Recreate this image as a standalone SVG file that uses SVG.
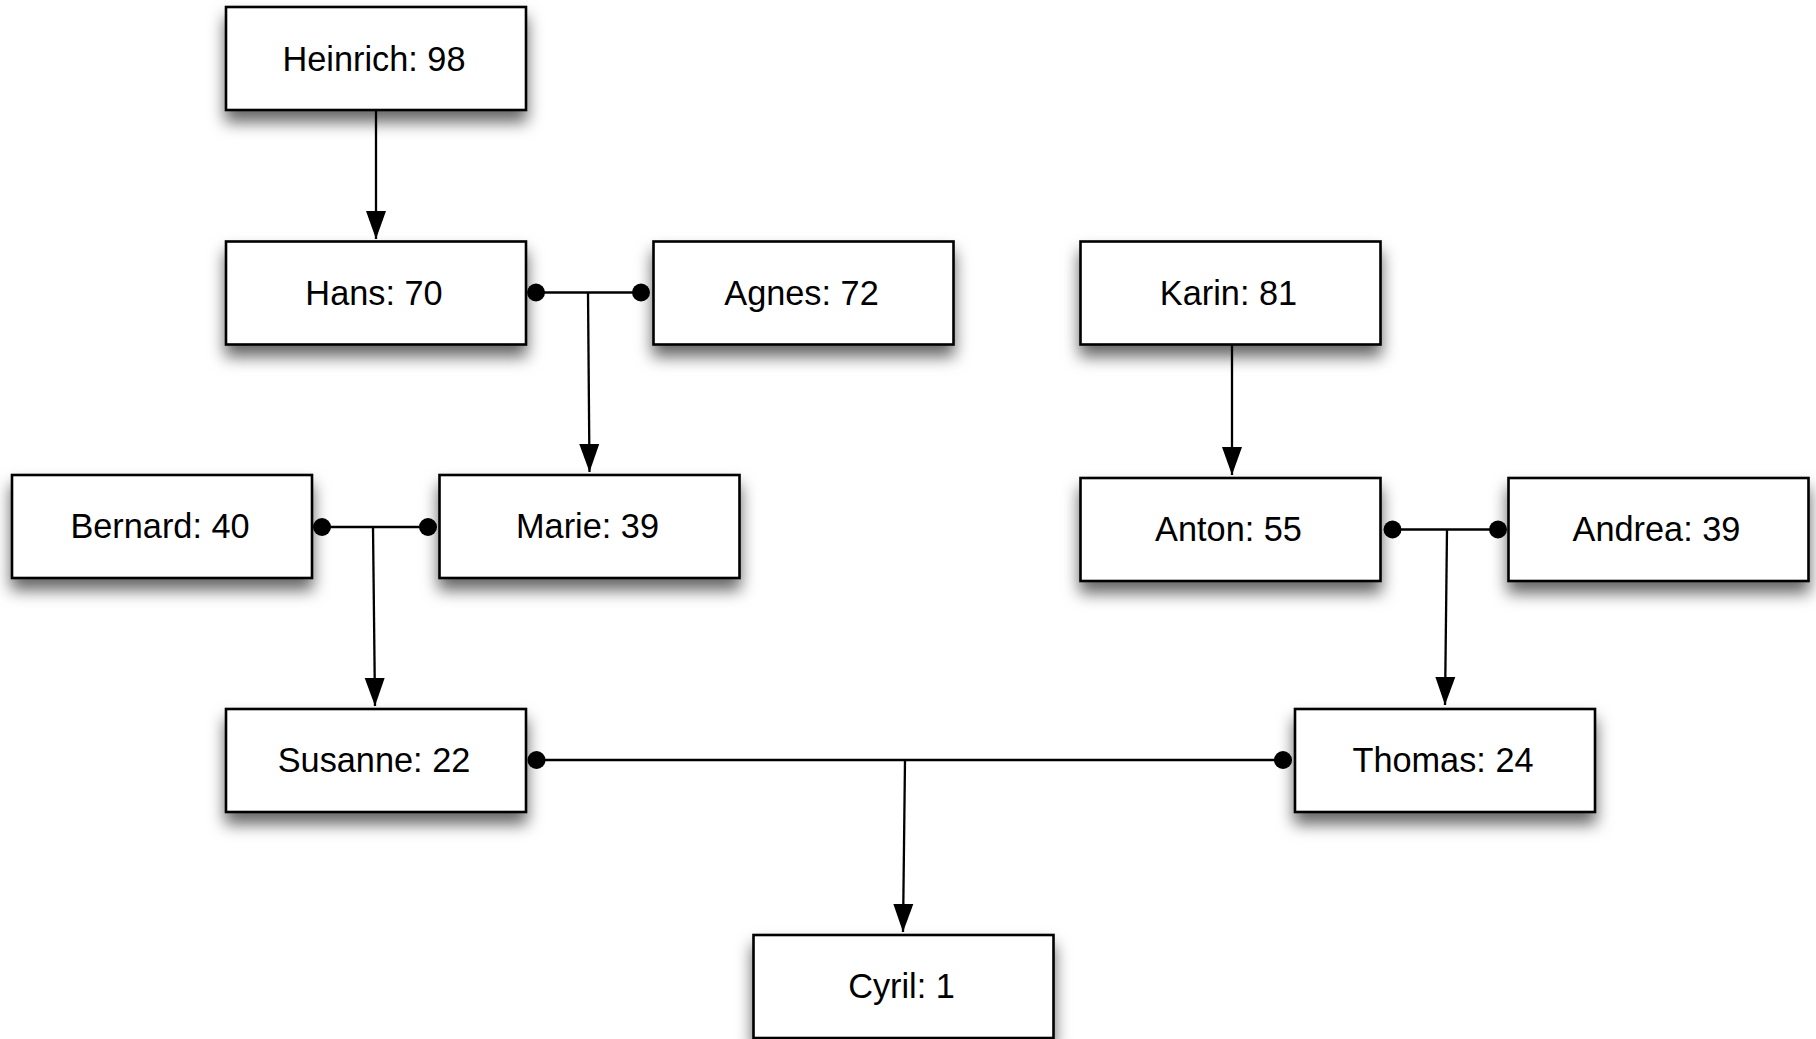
<svg xmlns="http://www.w3.org/2000/svg" width="1816" height="1039" viewBox="0 0 1816 1039">
<style>
.box{fill:#fff;stroke:#000;stroke-width:2.6;filter:url(#sh)}
.lbl{font-family:"Liberation Sans",Arial,sans-serif;font-size:34.3px;fill:#000;text-anchor:middle}
.ln{stroke:#000;stroke-width:2.3;fill:none}
.arr{stroke:#000;stroke-width:2.3;fill:none;marker-end:url(#ah)}
.dot{fill:#000}
</style>
<defs>
<filter id="sh" x="-10%" y="-20%" width="120%" height="170%">
<feDropShadow dx="0" dy="11" stdDeviation="8" flood-color="#000" flood-opacity="0.6"/>
</filter>
<marker id="ah" markerUnits="userSpaceOnUse" markerWidth="30" markerHeight="24" viewBox="0 0 30 24" refX="28" refY="12" orient="auto">
<path d="M0,2 L28,12 L0,22 Z" fill="#000"/>
</marker>
</defs>
<g id="nodes">
<g id="heinrich"><rect class="box" x="226" y="7" width="300" height="103"/><text class="lbl" x="374" y="70.5">Heinrich: 98</text></g>
<g id="hans"><rect class="box" x="226" y="241.5" width="300" height="103"/><text class="lbl" x="374" y="304.5">Hans: 70</text></g>
<g id="agnes"><rect class="box" x="653.5" y="241.5" width="300" height="103"/><text class="lbl" x="801.5" y="304.5">Agnes: 72</text></g>
<g id="karin"><rect class="box" x="1080.5" y="241.5" width="300" height="103"/><text class="lbl" x="1228.5" y="304.5">Karin: 81</text></g>
<g id="bernard"><rect class="box" x="12" y="475" width="300" height="103"/><text class="lbl" x="160" y="538">Bernard: 40</text></g>
<g id="marie"><rect class="box" x="439.5" y="475" width="300" height="103"/><text class="lbl" x="587.5" y="538">Marie: 39</text></g>
<g id="anton"><rect class="box" x="1080.5" y="478" width="300" height="103"/><text class="lbl" x="1228.5" y="541">Anton: 55</text></g>
<g id="andrea"><rect class="box" x="1508.5" y="478" width="300" height="103"/><text class="lbl" x="1656.5" y="541">Andrea: 39</text></g>
<g id="susanne"><rect class="box" x="226" y="709" width="300" height="103"/><text class="lbl" x="374" y="772">Susanne: 22</text></g>
<g id="thomas"><rect class="box" x="1295" y="709" width="300" height="103"/><text class="lbl" x="1443" y="772">Thomas: 24</text></g>
<g id="cyril"><rect class="box" x="753.5" y="935" width="300" height="103"/><text class="lbl" x="901.5" y="998">Cyril: 1</text></g>
</g>
<g id="connectors">
<line class="arr" x1="376" y1="110" x2="376" y2="239"/>
<line class="ln" x1="536" y1="292.5" x2="641" y2="292.5"/>
<circle class="dot" cx="536" cy="292.5" r="9"/><circle class="dot" cx="641" cy="292.5" r="9"/>
<line class="arr" x1="588" y1="292.5" x2="589.5" y2="472"/>
<line class="arr" x1="1232" y1="344.5" x2="1232" y2="475"/>
<line class="ln" x1="322" y1="527" x2="428" y2="527"/>
<circle class="dot" cx="322" cy="527" r="9"/><circle class="dot" cx="428" cy="527" r="9"/>
<line class="arr" x1="373" y1="527" x2="375" y2="706"/>
<line class="ln" x1="1392.5" y1="529.5" x2="1498" y2="529.5"/>
<circle class="dot" cx="1392.5" cy="529.5" r="9"/><circle class="dot" cx="1498" cy="529.5" r="9"/>
<line class="arr" x1="1447" y1="529.5" x2="1445" y2="705"/>
<line class="ln" x1="536.5" y1="760" x2="1283" y2="760"/>
<circle class="dot" cx="536.5" cy="760" r="9"/><circle class="dot" cx="1283" cy="760" r="9"/>
<line class="arr" x1="905" y1="760" x2="903" y2="932"/>
</g>
</svg>
